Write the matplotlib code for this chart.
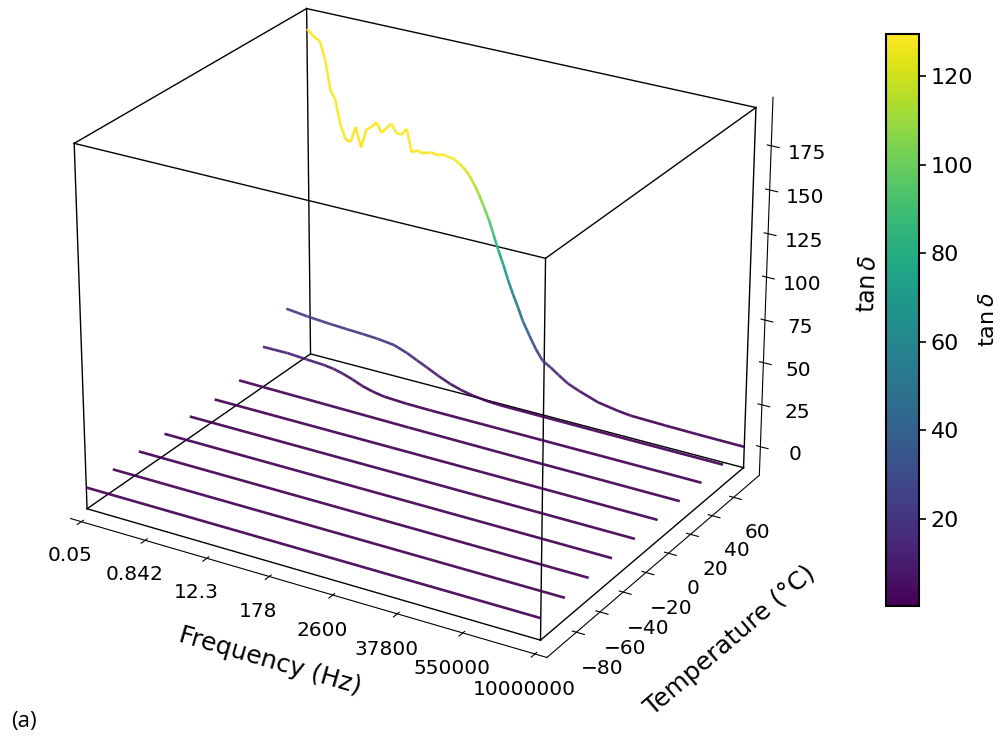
import numpy as np
import matplotlib
matplotlib.use("Agg")
import matplotlib.pyplot as plt
from matplotlib.cm import ScalarMappable
from matplotlib.colors import Normalize
from mpl_toolkits.mplot3d.art3d import Line3DCollection

# Tick labels
freq_ticks = [0.05, 0.842, 12.3, 178, 2600, 37800, 550000, 10000000]
freq_labels = ["0.05", "0.842", "12.3", "178", "2600", "37800", "550000", "10000000"]
temp_ticks = [-80, -60, -40, -20, 0, 20, 40, 60]
tan_ticks = [0, 25, 50, 75, 100, 125, 150, 175]
cbar_ticks = [20, 40, 60, 80, 100, 120]

# Curves: log10(frequency) and tan delta
logf_80 = [-1.30, -1.165, -1.05, -0.945, -0.85, -0.76, -0.665, -0.56, -0.46, -0.365, -0.26, -0.155, -0.055,
           0.04, 0.14, 0.235, 0.33, 0.43, 0.525, 0.625, 0.72, 0.82, 0.94, 1.10, 1.21, 1.31, 1.40, 1.51,
           1.625, 1.725, 1.82, 1.92, 2.01, 2.10, 2.20, 2.29, 2.38, 2.48, 2.57, 2.67, 2.77, 2.86, 2.99,
           3.11, 3.24, 3.40, 3.55, 3.73, 3.94, 4.30, 4.67, 4.91, 5.55, 6.15, 7.00]
tan_80 = [185.1, 181.5, 179.7, 168.9, 151.9, 147.5, 133.4, 124.7, 124.2, 133.7, 122.3, 133.7, 136.0,
          139.3, 133.8, 137.2, 140.5, 135.7, 135.4, 139.6, 126.4, 128.2, 127.5, 129.1, 128.3, 129.4,
          128.9, 128.5, 126.4, 124.2, 120.7, 116.0, 110.7, 104.4, 97.2, 89.0, 80.8, 72.6, 64.3, 56.2,
          48.9, 41.7, 33.9, 27.0, 21.0, 18.0, 14.7, 11.0, 8.3, 4.4, 2.4, 1.5, 1.0, 0.7, 0.5]
logf_60 = [-1.30, -0.88, -0.45, -0.10, 0.20, 0.50, 0.82, 1.07, 1.26, 1.46, 1.68, 1.91, 2.12, 2.34, 2.60,
           2.86, 4.63, 7.00]
tan_60 = [26.0, 24.6, 23.6, 23.0, 22.6, 22.0, 20.8, 18.0, 15.2, 12.3, 9.0, 6.0, 4.0, 2.5, 1.5,
          1.0, 0.7, 0.5]
logf_40 = [-1.30, -0.81, -0.43, -0.10, 0.09, 0.27, 0.46, 0.65, 0.86, 1.08, 1.51, 1.97, 7.00]
tan_40 = [12.5, 12.6, 11.8, 11.2, 10.4, 9.0, 7.0, 4.6, 2.8, 1.6, 0.9, 0.7, 0.5]
logf_20 = [-1.30, 0.0, 2.0, 4.0, 7.00]
tan_20 = [2.0, 1.6, 1.0, 0.7, 0.5]
logf_low = [-1.30, 7.00]
tan_low = [0.6, 0.5]
low_temps = [-100, -80, -60, -40, -20, 0]

x_range = [-1.30, 7.00]
y_range = [-100, 80]
z_range = [-12, 197]


def add_curve(ax, logf, temp, tan, norm):
    """ Coloured line on a constant temperature plane """
    x = np.array(logf)
    z = np.array(tan)
    y = np.full(x.size, temp)
    pts = np.column_stack([x, y, z])
    segs = np.stack([pts[:-1], pts[1:]], axis=1)
    lc = Line3DCollection(segs, cmap="viridis", norm=norm, linewidth=1.9, alpha=0.92)
    lc.set_array((z[:-1] + z[1:]) / 2)
    ax.add_collection3d(lc)


def padded(rng, frac=0.025):
    span = rng[1] - rng[0]
    return rng[0] - frac * span, rng[1] + frac * span


fig = plt.figure(figsize=(9.99, 7.36), dpi=100)
ax = fig.add_axes([-0.082, 0.001, 0.979, 1.125], projection="3d")
ax.set_box_aspect((4.98, 4, 3.786), zoom=0.966)
ax.view_init(elev=25, azim=-59)
ax.set_xlim(*padded(x_range))
ax.set_ylim(*padded(y_range))
ax.set_zlim(*padded(z_range))

norm = Normalize(0.3, 129.5)

for t in low_temps:
    add_curve(ax, logf_low, t, tan_low, norm)
add_curve(ax, logf_20, 20, tan_20, norm)
add_curve(ax, logf_40, 40, tan_40, norm)
add_curve(ax, logf_60, 60, tan_60, norm)
add_curve(ax, logf_80, 80, tan_80, norm)

# Outline box around the data
for a in x_range:
    for b in y_range:
        ax.plot([a, a], [b, b], z_range, color="k", lw=1.0)
    for c in z_range:
        ax.plot([a, a], y_range, [c, c], color="k", lw=1.0)
for b in y_range:
    for c in z_range:
        ax.plot(x_range, [b, b], [c, c], color="k", lw=1.0)

ax.grid(False)
for axis in [ax.xaxis, ax.yaxis, ax.zaxis]:
    axis.pane.fill = False
    axis.pane.set_edgecolor("none")

ax.set_xticks(np.log10(freq_ticks))
ax.set_xticklabels(freq_labels)
ax.set_yticks(temp_ticks)
ax.set_zticks(tan_ticks)
ax.tick_params(labelsize=14.5)
ax.tick_params(axis="x", pad=6)
ax.tick_params(axis="y", pad=8)
ax.tick_params(axis="z", pad=8)
ax.set_xlabel("Frequency (Hz)", fontsize=18, labelpad=20, rotation=-18)
ax.set_ylabel("Temperature (°C)", fontsize=18, labelpad=26, rotation=42)
ax.set_zlabel(r"$\tan\delta$", fontsize=17, labelpad=25)

cax = fig.add_axes([886 / 999, 130 / 736, 33 / 999, 572 / 736])
sm = ScalarMappable(norm=norm, cmap="viridis")
cb = fig.colorbar(sm, cax=cax)
cb.set_ticks(cbar_ticks)
cb.ax.tick_params(labelsize=16, width=1.2, length=5)
cb.outline.set_linewidth(1.5)
cb.set_label(r"$\tan\delta$", fontsize=16, labelpad=3)

fig.text(11 / 999, 1 - 722 / 736, "(a)", fontsize=16, family="Open Sans", va="center")

fig.savefig("out.png", dpi=100)
